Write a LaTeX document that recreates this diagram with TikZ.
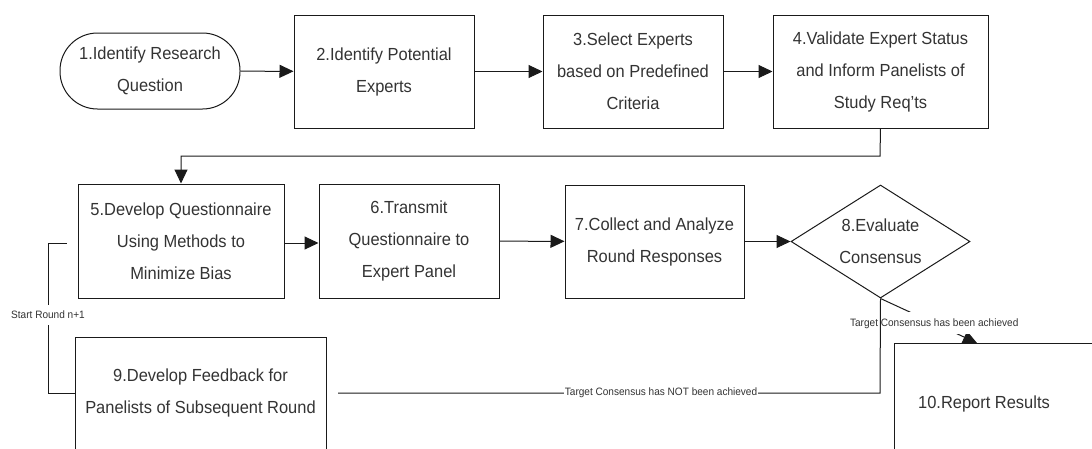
\documentclass[tikz,border=0pt]{standalone}
\usepackage{fontspec}
\setmainfont[FakeStretch=0.94]{Liberation Sans}
\usetikzlibrary{arrows.meta,shapes.geometric}
\definecolor{ink}{HTML}{333333}
\definecolor{edge}{HTML}{1A1A1A}
\tikzset{
  x=1pt, y=-1pt,
  every node/.style={text=ink},
  txtdown/.style={execute at begin node={\rule{0pt}{20pt}}},
  boxnode/.style={draw=edge, line width=1pt, rectangle, inner sep=0pt, align=center,
    font=\fontsize{17.5}{32}\selectfont, txtdown},
  stadium/.style={boxnode, rounded corners=37.5pt},
  decision/.style={draw=edge, line width=1pt, diamond, aspect=1.584, inner sep=0pt, align=center,
    minimum width=179pt, minimum height=113pt, font=\fontsize{17.5}{32}\selectfont, txtdown},
  conn/.style={draw=edge, line width=1pt},
  arr/.style={conn, -{Triangle[length=14pt,width=13pt]}},
  small/.style={font=\fontsize{10.7}{12}\selectfont, fill=white, inner xsep=1pt},
}
\begin{document}
\begin{tikzpicture}
\useasboundingbox (0,0) rectangle (1092,448);
\clip (0,0) rectangle (1092,448);
% row 1
\node[stadium, minimum width=180pt, minimum height=76pt] (n1) at (150,71) {1.Identify Research\\Question};
\node[boxnode, minimum width=180pt, minimum height=113pt] (n2) at (384,71.5) {2.Identify Potential\\Experts};
\node[boxnode, minimum width=180pt, minimum height=113pt] (n3) at (633,71.5) {3.Select Experts\\based on Predefined\\Criteria};
\node[boxnode, minimum width=215pt, minimum height=113pt] (n4) at (880.5,71.5) {4.Validate Expert Status\\and Inform Panelists of\\Study Req'ts};
% row 2
\node[boxnode, minimum width=206pt, minimum height=114pt] (n5) at (181,241) {5.Develop Questionnaire\\Using Methods to\\Minimize Bias};
\node[boxnode, minimum width=180pt, minimum height=114pt] (n6) at (409,241) {6.Transmit\\Questionnaire to\\Expert Panel};
\node[boxnode, minimum width=179pt, minimum height=113pt] (n7) at (654.5,241.5) {7.Collect and Analyze\\Round Responses};
\node[decision] (n8) at (880.5,241.5) {8.Evaluate\\Consensus};
% row 3
\node[boxnode, minimum width=251pt, minimum height=112pt] (n9) at (200.5,393) {9.Develop Feedback for\\Panelists of Subsequent Round};
\node[boxnode, minimum width=200pt, minimum height=113pt, txtdown/.style={}] (n10) at (994,399.5) {};
\node[font=\fontsize{17.5}{32}\selectfont] (n10t) at (984,404) {10.Report Results};
% coordinates
\coordinate (c4a) at (880,156);
\coordinate (c5top) at (181,156);
\coordinate (cbot) at (880,393);
\coordinate (cnot) at (338,393);
\coordinate (c10) at (977,343);
\coordinate (cl1) at (48,393);
\coordinate (cl2) at (48,243);
\coordinate (cl3) at (67,243);
% connectors
\draw[arr] (n1) -- (n2);
\draw[arr] (n2) -- (n3);
\draw[arr] (n3) -- (n4);
\draw[arr] (n4.south) -- (c4a) -- (c5top) -- (n5.north);
\draw[arr] (n5.east |- cl2) -- (n6.west |- cl2);
\draw[arr] (n6) -- (n7);
\draw[arr] (n7) -- (n8);
\draw[arr] (n8.south) -- node[small, pos=0.557, inner ysep=6pt] (lach) {Target Consensus has been achieved} (c10);
\draw[conn] (n8.south) -- (cbot) -- node[small, pos=0.404, inner ysep=2pt] (lnot) {Target Consensus has NOT been achieved} (cnot);
\draw[conn] (n9.west |- cl1) -- (cl1) -- node[small, pos=0.52, inner ysep=6pt] (lstart) {Start Round n+1} (cl2) -- (cl3);
\end{tikzpicture}
\end{document}
